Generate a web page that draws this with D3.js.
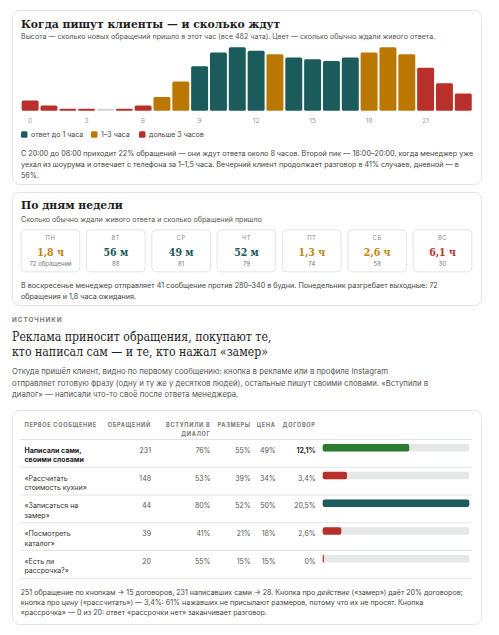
<!DOCTYPE html>
<html><head><meta charset="utf-8">
<script src="https://cdn.jsdelivr.net/npm/d3@7"></script>
<style>
html,body{margin:0;padding:0;background:#fff;}
svg{display:block;}
.serif{font-stretch:condensed;}
</style></head>
<body>
<svg id="c" width="499" height="635"></svg>
<script>
// ---------- DATA ----------
const hours = d3.range(24);
const hourCounts = [6,3,1,1,0,1,3,8,17,26,34,37,35,33,31,30,29,31,34,37,33,25,16,10];
const hourWait = ["long","long","long","long","none","long","long","mid","mid","fast","fast","fast","fast","mid","fast","fast","fast","fast","mid","mid","mid","long","long","long"];
const hourTicks = [0,3,6,9,12,15,18,21];
const legendKeys = ["fast","mid","long"];
const legendLabels = ["ответ до 1 часа","1–3 часа","дольше 3 часов"];

const days = ["ПН","ВТ","СР","ЧТ","ПТ","СБ","ВС"];
const dayWaitLabels = ["1,8 ч","56 м","49 м","52 м","1,3 ч","2,6 ч","6,1 ч"];
const dayWait = ["mid","fast","fast","fast","mid","mid","long"];
const dayCounts = ["72 обращений","88","81","79","74","58","30"];

const srcNames = [["Написали сами,","своими словами"],["«Рассчитать","стоимость кухни»"],["«Записаться на","замер»"],["«Посмотреть","каталог»"],["«Есть ли","рассрочка?»"]];
const srcCounts = [231,148,44,39,20];
const srcDialog = [76,53,80,41,55];
const srcSizes = [55,39,52,21,15];
const srcPrice = [49,34,50,18,15];
const srcContract = [12.1,3.4,20.5,2.6,0];
const srcColor = ["green","long","fast","long","long"];
const tableHeaders = [["ПЕРВОЕ СООБЩЕНИЕ"],["ОБРАЩЕНИЙ"],["ВСТУПИЛИ В","ДИАЛОГ"],["РАЗМЕРЫ"],["ЦЕНА"],["ДОГОВОР"]];

// ---------- STYLE ----------
const C = {fast:"#1c5b5c", mid:"#bb7800", long:"#b92f29", none:"#d3d3d3", green:"#2a7a30"};
const CT = {fast:"#1c5b5c", mid:"#c4840f", long:"#c0342c"};
const SANS = "Inter, 'Noto Sans', sans-serif";
const SERIF = "'DejaVu Serif', serif";
const border = "#e3e5e4";

const svg = d3.select("#c");

function card(x,y,w,h){
  svg.append("rect").attr("x",x+0.5).attr("y",y+0.5).attr("width",w).attr("height",h)
    .attr("rx",7).attr("fill","#fff").attr("stroke",border);
}
function lines(arr, x, y0, lh, size, color, opts={}){
  const t = svg.append("text").attr("font-family",opts.family||SANS).attr("font-size",size)
    .attr("fill",color).attr("font-weight",opts.weight||400);
  if (opts.cond) t.attr("class","serif");
  arr.forEach((l,i)=>{
    const ts = t.append("tspan").attr("x",x).attr("y",y0+i*lh);
    if (Array.isArray(l)) {
      l.forEach(seg=>{
        const s = ts.append("tspan").text(seg.t);
        if (seg.i) s.attr("font-style","italic");
      });
    } else ts.text(l);
  });
  return t;
}

// ---------- CARD 1 ----------
card(12,10,469,174);
lines(["Когда пишут клиенты — и сколько ждут"],21,27.5,0,10.8,"#1e1e1e",{family:SERIF,weight:700});
lines(["Высота — сколько новых обращений пришло в этот час (все 482 чата). Цвет — сколько обычно ждали живого ответа."],21,39.3,0,7.1,"#555");

const x = d3.scaleBand().domain(hours).range([20.7,472.7]).paddingInner(0.1).paddingOuter(0.05);
const y = d3.scaleLinear().domain([0,37]).range([110.7,47.3]);

svg.append("g").selectAll("rect").data(hours).join("rect")
  .attr("x",d=>x(d)).attr("width",x.bandwidth())
  .attr("y",d=>Math.min(y(hourCounts[d]), y(0)-2))
  .attr("height",d=>Math.max(y(0)-y(hourCounts[d]),2))
  .attr("rx",1.5)
  .attr("fill",d=>C[hourWait[d]]);

const ax = svg.append("g").attr("transform","translate(0,114)")
  .call(d3.axisBottom(x).tickValues(hourTicks).tickSize(0).tickPadding(4));
ax.select(".domain").remove();
ax.selectAll("text").attr("font-family",SANS).attr("font-size",6.5).attr("fill","#999");

const lg = svg.append("g").selectAll("g").data(legendKeys).join("g")
  .attr("transform",(d,i)=>`translate(${[21,91,139][i]},131.3)`);
lg.append("rect").attr("width",6.5).attr("height",6.5).attr("rx",1.5).attr("fill",d=>C[d]);
lg.append("text").attr("x",10).attr("y",6).attr("font-family",SANS).attr("font-size",7)
  .attr("fill","#444").text((d,i)=>legendLabels[i]);

lines(["С 20:00 до 08:00 приходит 22% обращений — они ждут ответа около 8 часов. Второй пик — 18:00–20:00, когда менеджер уже",
       "уехал из шоурума и отвечает с телефона за 1–1,5 часа. Вечерний клиент продолжает разговор в 41% случаев, дневной — в",
       "56%."],21,156.3,11,7.2,"#444");

// ---------- CARD 2 ----------
card(12,192,469,113);
lines(["По дням недели"],21,208.5,0,10.8,"#1e1e1e",{family:SERIF,weight:700});
lines(["Сколько обычно ждали живого ответа и сколько обращений пришло"],21,222,0,7.1,"#555");

const dx = d3.scaleBand().domain(days).range([20.7,472.3]).paddingInner(0.088);
const dg = svg.append("g").selectAll("g").data(days).join("g")
  .attr("transform",d=>`translate(${dx(d)},229.3)`);
dg.append("rect").attr("x",0.5).attr("y",0.5).attr("width",dx.bandwidth()-1).attr("height",42)
  .attr("rx",4).attr("fill","#fff").attr("stroke",border);
dg.append("text").attr("x",dx.bandwidth()/2).attr("y",10.6).attr("text-anchor","middle")
  .attr("font-family",SANS).attr("font-size",5.8).attr("letter-spacing",0.6).attr("fill","#888").text(d=>d);
dg.append("text").attr("class","serif").attr("x",dx.bandwidth()/2).attr("y",27).attr("text-anchor","middle")
  .attr("font-family",SERIF).attr("font-weight",700).attr("font-size",10.5)
  .attr("fill",(d,i)=>CT[dayWait[i]]).text((d,i)=>dayWaitLabels[i]);
dg.append("text").attr("x",dx.bandwidth()/2).attr("y",37).attr("text-anchor","middle")
  .attr("font-family",SANS).attr("font-size",6).attr("fill","#777").text((d,i)=>dayCounts[i]);

lines(["В воскресенье менеджер отправляет 41 сообщение против 280–340 в будни. Понедельник разгребает выходные: 72",
       "обращения и 1,8 часа ожидания."],21,287.6,11.3,7.2,"#444");

// ---------- SECTION ----------
lines(["ИСТОЧНИКИ"],12,322,0,6.3,"#777",{weight:700}).attr("letter-spacing",1);
lines(["Реклама приносит обращения, покупают те,","кто написал сам — и те, кто нажал «замер»"],12,340.5,15.5,12.2,"#1e1e1e",{family:SERIF,cond:true});
lines(["Откуда пришёл клиент, видно по первому сообщению: кнопка в рекламе или в профиле Instagram",
       "отправляет готовую фразу (одну и ту же у десятков людей), остальные пишут своими словами. «Вступили в",
       "диалог» — написали что-то своё после ответа менеджера."],12,374,11.5,7.75,"#555");

// ---------- CARD 3 ----------
card(12,410,469,214);
const colX = [24.5,151,210.5,250.7,275.7,315.7];
const colAnchor = ["start","end","end","end","end","end"];
tableHeaders.forEach((h,i)=>{
  const t = svg.append("text").attr("font-family",SANS).attr("font-size",5.6).attr("font-weight",700)
    .attr("letter-spacing",0.7).attr("fill","#777").attr("text-anchor",colAnchor[i]);
  h.forEach((l,j)=>t.append("tspan").attr("x",colX[i]).attr("y",426.5+j*9.8).text(l));
});
const rowTop = 439.5, rowH = 27.75;
svg.append("line").attr("x1",20.5).attr("x2",472).attr("y1",rowTop).attr("y2",rowTop).attr("stroke",border);

const bx = d3.scaleLinear().domain([0,d3.max(srcContract)]).range([322.7,469.3]);
const rows = svg.append("g").selectAll("g").data(srcCounts).join("g")
  .attr("transform",(d,i)=>`translate(0,${rowTop+i*rowH})`);
rows.append("line").attr("x1",20.5).attr("x2",472).attr("y1",rowH).attr("y2",rowH).attr("stroke",border);
rows.each(function(d,i){
  const g = d3.select(this);
  const bold = i===0;
  const nt = g.append("text").attr("font-family",SANS).attr("font-size",7)
    .attr("font-weight",bold?700:400).attr("fill",bold?"#1e1e1e":"#333");
  srcNames[i].forEach((l,j)=>nt.append("tspan").attr("x",24.5).attr("y",13.3+j*9.6).text(l));
  const vals = [srcCounts[i], srcDialog[i]+"%", srcSizes[i]+"%", srcPrice[i]+"%",
                String(srcContract[i]).replace(".",",")+"%"];
  vals.forEach((v,k)=>{
    g.append("text").attr("x",colX[k+1]).attr("y",13.3).attr("text-anchor","end")
      .attr("font-family",SANS).attr("font-size",7)
      .attr("font-weight",(bold&&k===4)?700:400).attr("fill",(bold&&k===4)?"#1e1e1e":"#555").text(v);
  });
  g.append("rect").attr("x",bx(0)).attr("y",4.5).attr("width",bx.range()[1]-bx(0)).attr("height",7.5)
    .attr("rx",2).attr("fill","#e5e8e7");
  g.append("rect").attr("x",bx(0)).attr("y",4.5).attr("width",Math.max(bx(srcContract[i])-bx(0),1.2)).attr("height",7.5)
    .attr("rx",srcContract[i]>0?2:0.5).attr("fill",C[srcColor[i]]);
});

lines([[{t:"251 обращение по кнопкам → 15 договоров, 231 написавших сами → 28. Кнопка про "},{t:"действие",i:true},{t:" («замер») даёт 20% договоров;"}],
       [{t:"кнопка про "},{t:"цену",i:true},{t:" («рассчитать») — 3,4%: 61% нажавших не присылают размеров, потому что их не просят. Кнопка"}],
       "«рассрочка» — 0 из 20: ответ «рассрочки нет» заканчивает разговор."],20.7,595,9.9,7.08,"#444");
</script>
</body></html>
